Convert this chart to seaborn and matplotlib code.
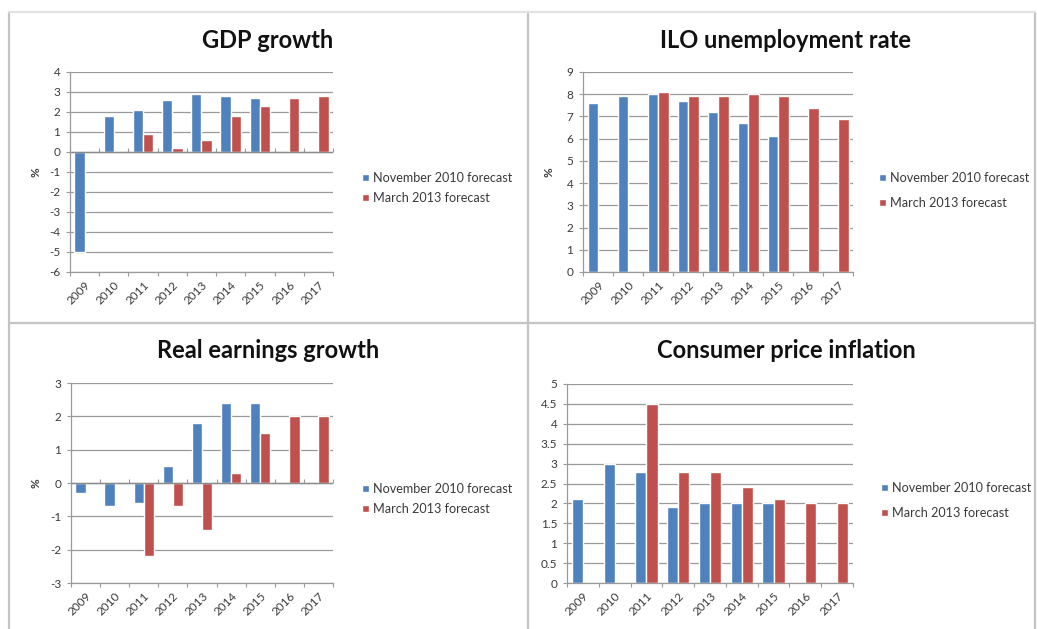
import numpy as np
import pandas as pd
import matplotlib
matplotlib.use("Agg")
import matplotlib.pyplot as plt
import seaborn as sns
from matplotlib.lines import Line2D
from matplotlib.ticker import FixedLocator, FuncFormatter, NullFormatter

# ---- data -------------------------------------------------------------
years = ["2009", "2010", "2011", "2012", "2013", "2014", "2015", "2016", "2017"]
series_names = ["November 2010 forecast", "March 2013 forecast"]
nan = np.nan

gdp_nov2010 = [-5.0, 1.8, 2.1, 2.6, 2.9, 2.8, 2.7, nan, nan]
gdp_mar2013 = [nan, nan, 0.9, 0.2, 0.6, 1.8, 2.3, 2.7, 2.8]

unemp_nov2010 = [7.6, 7.9, 8.0, 7.7, 7.2, 6.7, 6.1, nan, nan]
unemp_mar2013 = [nan, nan, 8.1, 7.9, 7.9, 8.0, 7.9, 7.4, 6.9]

earn_nov2010 = [-0.3, -0.7, -0.6, 0.5, 1.8, 2.4, 2.4, nan, nan]
earn_mar2013 = [nan, nan, -2.2, -0.7, -1.4, 0.3, 1.5, 2.0, 2.0]

cpi_nov2010 = [2.1, 3.0, 2.8, 1.9, 2.0, 2.0, 2.0, nan, nan]
cpi_mar2013 = [nan, nan, 4.5, 2.8, 2.8, 2.4, 2.1, 2.0, 2.0]

titles = ["GDP growth", "ILO unemployment rate",
          "Real earnings growth", "Consumer price inflation"]
y_ranges = [(-6, 4, 1), (0, 9, 1), (-3, 3, 1), (0, 5, 0.5)]

# ---- styling ------------------------------------------------------------
sns.set_theme(style="white")
plt.rcParams["font.family"] = ["Lato", "DejaVu Sans"]
plt.rcParams["axes.unicode_minus"] = False

BLUE = "#4F81BD"
RED = "#C0504D"
GRID = "#9a9a9a"
TEXT = "#3a3a3a"
FRAME = "#c4c4c4"

W, H = 1037, 629
fig = plt.figure(figsize=(W / 100, H / 100), dpi=100)
fig.patch.set_facecolor("white")


def rect(left, top, right, bottom):
    return [left / W, 1 - bottom / H, (right - left) / W, (bottom - top) / H]


# plot-area boxes (pixels: left, top, right, bottom), legend anchors, title centres
layout = [
    dict(box=(70, 72, 333, 272), legend=(356, 188, 20), title=(268, 41), ylab=36),
    dict(box=(583, 72, 853, 272), legend=(873, 188, 25), title=(786, 41), ylab=549),
    dict(box=(71, 383, 333, 583), legend=(356, 499, 20), title=(268, 351), ylab=36),
    dict(box=(567, 384, 853, 583), legend=(875, 498, 25), title=(786, 351), ylab=None),
]

panels = [
    (gdp_nov2010, gdp_mar2013),
    (unemp_nov2010, unemp_mar2013),
    (earn_nov2010, earn_mar2013),
    (cpi_nov2010, cpi_mar2013),
]

LEG_FS = 9.1

for (s1, s2), title, (lo, hi, step), lay in zip(panels, titles, y_ranges, layout):
    df = pd.DataFrame({
        "year": years * 2,
        "series": [series_names[0]] * len(years) + [series_names[1]] * len(years),
        "value": list(s1) + list(s2),
    }).dropna()

    ax = fig.add_axes(rect(*lay["box"]))
    sns.barplot(data=df, x="year", y="value", hue="series",
                order=years, hue_order=series_names,
                palette=[BLUE, RED], saturation=1, width=0.7,
                errorbar=None, ax=ax)

    ax.set_xlim(-0.5, len(years) - 0.5)
    ax.set_ylim(lo, hi)
    ticks = np.arange(lo, hi + step / 2, step)
    ax.yaxis.set_major_locator(FixedLocator(ticks))
    ax.yaxis.set_major_formatter(FuncFormatter(lambda v, p: f"{v:g}"))
    ax.yaxis.grid(True, color=GRID, lw=0.9)
    ax.set_axisbelow(True)

    for side in ("top", "right"):
        ax.spines[side].set_visible(False)
    for side in ("left", "bottom"):
        ax.spines[side].set_color(GRID)
        ax.spines[side].set_linewidth(0.9)

    ax.tick_params(axis="y", which="major", length=3, width=0.8, color=GRID,
                   labelsize=8.5, labelcolor=TEXT, pad=4, left=True)
    ax.tick_params(axis="x", which="major", length=0, labelsize=8.5,
                   labelcolor=TEXT, pad=5)
    ax.set_xticks(np.arange(-0.5, len(years), 1.0), minor=True)
    ax.tick_params(axis="x", which="minor", length=3, width=0.8, color=GRID,
                   bottom=True)
    plt.setp(ax.get_xticklabels(), rotation=45, ha="right",
             rotation_mode="anchor")

    # category axis crossing at zero
    if lo < 0 < hi:
        ax.axhline(0, color="#8a8a8a", lw=1.0, zorder=1.5)
        sec = ax.secondary_xaxis((0 - lo) / (hi - lo))
        for sp in sec.spines.values():
            sp.set_visible(False)
        sec.set_xticks(np.arange(-0.5, len(years), 1.0))
        sec.xaxis.set_major_formatter(NullFormatter())
        sec.tick_params(axis="x", length=3, width=0.8, color=GRID,
                        direction="out", labelbottom=False, labeltop=False)

    ax.set_xlabel("")
    ax.set_ylabel("")
    if lay["ylab"] is not None:
        fig.text(lay["ylab"] / W, 1 - ((lay["box"][1] + lay["box"][3]) / 2) / H,
                 "%", rotation=90, ha="center", va="center",
                 fontsize=8.5, fontweight="bold", color=TEXT)

    lx, ly, gap = lay["legend"]
    sns.move_legend(ax, loc="center left",
                    bbox_to_anchor=(lx / W, 1 - (ly + gap / 2 - 10) / H),
                    bbox_transform=fig.transFigure,
                    frameon=False, title=None, fontsize=LEG_FS,
                    handlelength=0.55, handleheight=0.55, handletextpad=0.3,
                    labelspacing=max(gap - 12, 2) / (LEG_FS * 1.39),
                    borderpad=0)
    for t in ax.get_legend().get_texts():
        t.set_color(TEXT)

    fig.text(lay["title"][0] / W, 1 - lay["title"][1] / H, title,
             ha="center", va="center", fontsize=17, fontweight="bold",
             color="#111111")

# panel frames
frame_lines = [
    ((9, 9), (12, 629), FRAME), ((528, 528), (12, 629), FRAME),
    ((1035, 1035), (12, 629), FRAME), ((9, 1035), (12, 12), "#e2e2e2"),
    ((9, 1035), (323, 323), FRAME),
]
for xs, ys, col in frame_lines:
    fig.add_artist(Line2D([x / W for x in xs], [1 - y / H for y in ys],
                          color=col, lw=1.6, transform=fig.transFigure))

fig.savefig("out.png", dpi=100, facecolor="white")
